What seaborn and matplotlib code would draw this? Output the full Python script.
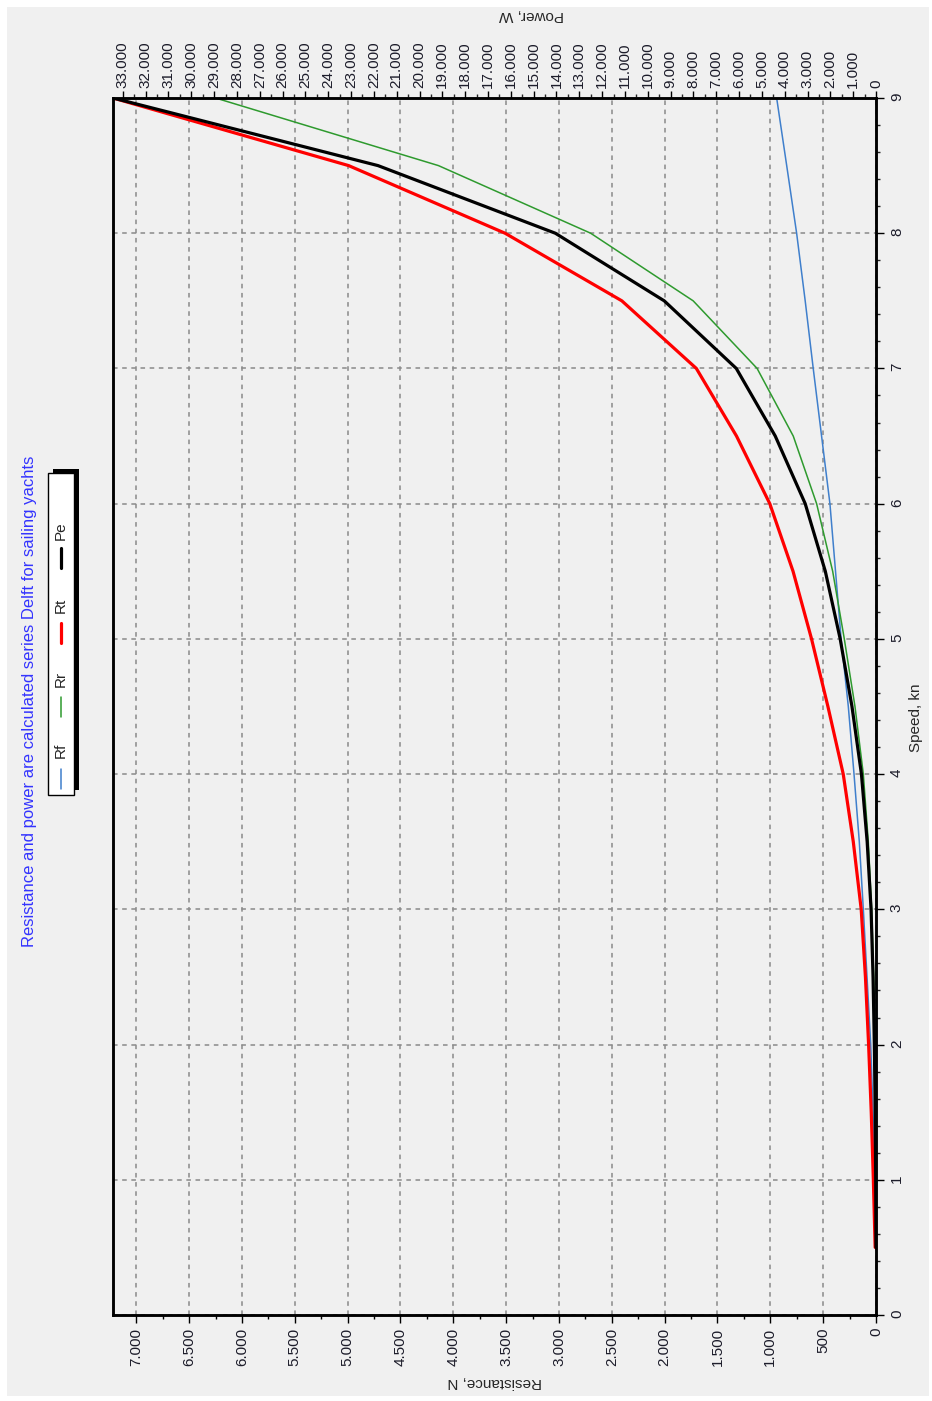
import matplotlib
matplotlib.use("Agg")
import matplotlib.pyplot as plt
import seaborn as sns
import pandas as pd
from matplotlib.ticker import MultipleLocator, FuncFormatter
from matplotlib.patches import Rectangle
from matplotlib.lines import Line2D

speed_kn = [0.5, 1.0, 1.5, 2.0, 2.5, 3.0, 3.5, 4.0, 4.5, 5.0, 5.5, 6.0, 6.5, 7.0, 7.5, 8.0, 8.5, 9.0]
rf_n = [5, 14, 28, 50, 85, 120, 158, 208, 262, 330, 383, 436, 515, 594, 670, 751, 845, 940]
rr_n = [0, 2, 5, 10, 22, 41, 73, 120, 199, 300, 410, 562, 783, 1125, 1730, 2700, 4140, 6250]
rt_n = [8, 25, 45, 70, 100, 140, 215, 310, 455, 610, 785, 1005, 1320, 1700, 2405, 3510, 4990, 7220]
pe_w = [2, 13, 35, 72, 129, 216, 387, 638, 1053, 1569, 2221, 3102, 4414, 6121, 9279, 14050, 21818, 33426]

res_max = 7220
pow_max = 33430

title = "Resistance and power are calculated series Delft for sailing yachts"

df = pd.DataFrame({"speed": speed_kn, "Rf": rf_n, "Rr": rr_n, "Rt": rt_n, "Pe": pe_w})

sns.set_theme(style="ticks")
plt.rcParams["font.family"] = ["Liberation Sans", "DejaVu Sans"]
plt.rcParams["font.size"] = 11

W, H = 932, 1401
fx = lambda x: x / W
fy = lambda y: 1 - y / H

fig = plt.figure(figsize=(W / 100, H / 100), dpi=100)
fig.patch.set_facecolor("white")
fig.patches.append(Rectangle((fx(7), fy(1396)), 922 / W, 1389 / H, transform=fig.transFigure,
                             facecolor="#f0f0f0", edgecolor="none", zorder=-10))

ax = fig.add_axes([fx(113), fy(1315), 763 / W, 1217 / H])
ax.set_facecolor("#f0f0f0")

sns.lineplot(data=df, x="Rf", y="speed", orient="y", estimator=None, color="#3f7fcc", linewidth=1.1, ax=ax)
sns.lineplot(data=df, x="Rr", y="speed", orient="y", estimator=None, color="#2e9a2e", linewidth=1.1, ax=ax)
sns.lineplot(data=df, x="Rt", y="speed", orient="y", estimator=None, color="#ff0000", linewidth=2.3, ax=ax)
ax.set_xlim(res_max, 0)

ax2 = ax.twiny()
sns.lineplot(data=df, x="Pe", y="speed", orient="y", estimator=None, color="black", linewidth=2.3, ax=ax2)
ax2.set_xlim(pow_max, 0)
ax.set_ylim(0, 9)

for a in (ax, ax2):
    a.set_xlabel("")
    a.set_ylabel("")
    for s in a.spines.values():
        s.set_linewidth(1.8)
        s.set_color("black")

fmt = FuncFormatter(lambda v, p: f"{v:,.0f}".replace(",", "."))

ax.xaxis.set_major_locator(MultipleLocator(500))
ax.xaxis.set_minor_locator(MultipleLocator(250))
ax.xaxis.set_major_formatter(fmt)
ax.yaxis.set_major_locator(MultipleLocator(1))
ax.yaxis.set_minor_locator(MultipleLocator(0.2))
ax.yaxis.tick_right()

ax2.xaxis.set_major_locator(MultipleLocator(1000))
ax2.xaxis.set_minor_locator(MultipleLocator(500))
ax2.xaxis.set_major_formatter(fmt)

lab_col = "#1c1c2a"
ax.tick_params(axis="x", which="major", direction="out", length=6, width=1, pad=3,
               labelrotation=90, labelsize=11, colors="black", labelcolor=lab_col)
ax.tick_params(axis="x", which="minor", direction="out", length=3, width=1, colors="black")
ax.tick_params(axis="y", which="major", direction="out", length=6, width=1, pad=4,
               labelrotation=90, labelsize=11, colors="black", labelcolor=lab_col,
               right=True, left=False, labelright=True, labelleft=False)
ax.tick_params(axis="y", which="minor", direction="out", length=3, width=1, right=True, left=False)
ax2.tick_params(axis="x", which="major", direction="out", length=5, width=1, pad=2,
                labelrotation=90, labelsize=11, colors="black", labelcolor=lab_col)
ax2.tick_params(axis="x", which="minor", direction="out", length=3, width=1)

ax.set_axisbelow(True)
ax.grid(True, which="major", axis="both", color="#8a8a8a", linestyle=(0, (3, 3)), linewidth=1.1)

# axis titles and chart title (chart is turned a quarter turn)
fig.text(fx(495), fy(1382), "Resistance, N", rotation=180, ha="center", va="center", fontsize=11)
fig.text(fx(532), fy(15), "Power, W", rotation=180, ha="center", va="center", fontsize=11)
fig.text(fx(916), fy(718), "Speed, kn", rotation=90, ha="center", va="center", fontsize=11)
fig.text(fx(30), fy(701), title, rotation=90, ha="center", va="center", fontsize=12, color="#3333ff")

# legend box with shadow
fig.add_artist(Rectangle((fx(53), fy(790)), 26 / W, 321 / H, transform=fig.transFigure,
                         facecolor="black", edgecolor="none"))
fig.add_artist(Rectangle((fx(48), fy(795)), 26 / W, 322 / H, transform=fig.transFigure,
                         facecolor="white", edgecolor="black", linewidth=1))
entries = [("Rf", "#3f7fcc", 1.1, 779, 750),
           ("Rr", "#2e9a2e", 1.1, 707, 679),
           ("Rt", "#ff0000", 2.3, 633, 605),
           ("Pe", "black", 2.3, 558, 531)]
for name, col, lw, lc, tc in entries:
    fig.add_artist(Line2D([fx(61), fx(61)], [fy(lc + 10), fy(lc - 10)], color=col, linewidth=lw,
                          transform=fig.transFigure))
    fig.text(fx(61), fy(tc), name, rotation=90, ha="center", va="center", fontsize=11)

fig.savefig("out.png", dpi=100)
